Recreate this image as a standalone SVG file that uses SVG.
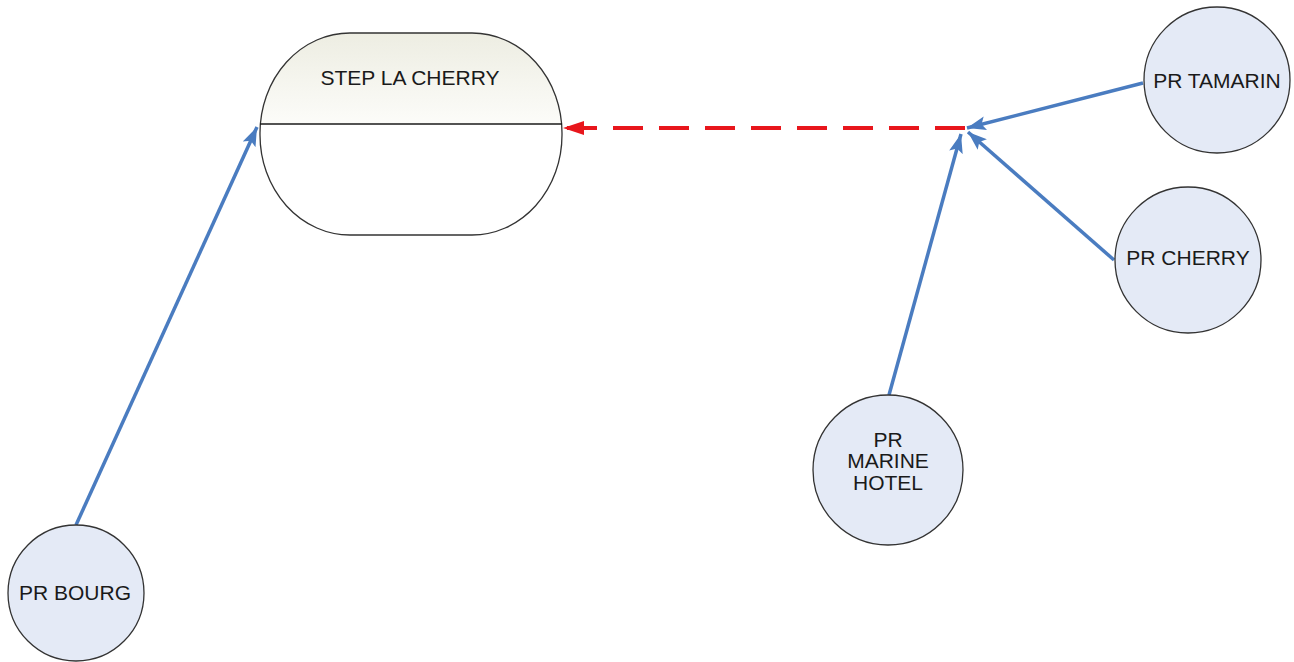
<svg xmlns="http://www.w3.org/2000/svg" width="1294" height="662" viewBox="0 0 1294 662">
  <style>
    .pr { fill: #e4eaf6; stroke: #333; stroke-width: 1.3; }
    .lbl { font-family: "Liberation Sans", Arial, sans-serif; font-size: 21px; fill: #1a1a1a; text-anchor: middle; }
    .flow { fill: none; stroke: #4a7cc0; stroke-width: 3.5; }
    .out { fill: none; stroke: #e8161c; stroke-width: 3.8; stroke-dasharray: 30 16; }
  </style>
  <defs>
    <linearGradient id="headFill" x1="0" y1="0" x2="0" y2="1">
      <stop offset="0" stop-color="#ededE2"/>
      <stop offset="1" stop-color="#fcfcf9"/>
    </linearGradient>
    <clipPath id="stadiumClip">
      <rect x="260" y="33" width="302" height="202" rx="90" ry="100"/>
    </clipPath>
    <marker id="arrBlue" markerUnits="userSpaceOnUse" markerWidth="20" markerHeight="16" viewBox="0 0 20 16" refX="19" refY="8" orient="auto">
      <path d="M0,1 L19,8 L0,15 L4,8 Z" fill="#4a7cc0"/>
    </marker>
    <marker id="arrRed" markerUnits="userSpaceOnUse" markerWidth="22" markerHeight="16" viewBox="0 0 22 16" refX="21" refY="8" orient="auto">
      <path d="M0,1 L21,8 L0,15 Z" fill="#e8161c"/>
    </marker>
  </defs>

  <!-- connectors -->
  <g id="connectors">
    <line class="flow" x1="76" y1="525" x2="257" y2="127" marker-end="url(#arrBlue)"/>
    <line class="flow" x1="1143" y1="83" x2="967" y2="128" marker-end="url(#arrBlue)"/>
    <line class="flow" x1="1114" y1="260" x2="968" y2="132" marker-end="url(#arrBlue)"/>
    <line class="flow" x1="889" y1="395" x2="961" y2="134" marker-end="url(#arrBlue)"/>
    <line class="out" x1="965" y1="128" x2="563" y2="128" marker-end="url(#arrRed)"/>
  </g>

  <!-- treatment plant -->
  <g id="step-la-cherry">
    <g clip-path="url(#stadiumClip)">
      <rect x="260" y="33" width="302" height="91" fill="url(#headFill)"/>
      <rect x="260" y="124" width="302" height="111" fill="#ffffff"/>
    </g>
    <rect x="260" y="33" width="302" height="202" rx="90" ry="100" fill="none" stroke="#333" stroke-width="1.3"/>
    <line x1="260" y1="124" x2="562" y2="124" stroke="#1a1a1a" stroke-width="1.5"/>
    <text class="lbl" x="410" y="85">STEP LA CHERRY</text>
  </g>

  <!-- pumping stations -->
  <g id="pr-tamarin">
    <circle class="pr" cx="1217" cy="80" r="73"/>
    <text class="lbl" x="1217" y="88">PR TAMARIN</text>
  </g>
  <g id="pr-cherry">
    <circle class="pr" cx="1188" cy="260" r="73"/>
    <text class="lbl" x="1188" y="265">PR CHERRY</text>
  </g>
  <g id="pr-marine-hotel">
    <circle class="pr" cx="888" cy="470" r="75"/>
    <text class="lbl" x="888" y="447">PR</text>
    <text class="lbl" x="888" y="468">MARINE</text>
    <text class="lbl" x="888" y="490">HOTEL</text>
  </g>
  <g id="pr-bourg">
    <circle class="pr" cx="76" cy="593" r="68"/>
    <text class="lbl" x="75" y="600">PR BOURG</text>
  </g>
</svg>
